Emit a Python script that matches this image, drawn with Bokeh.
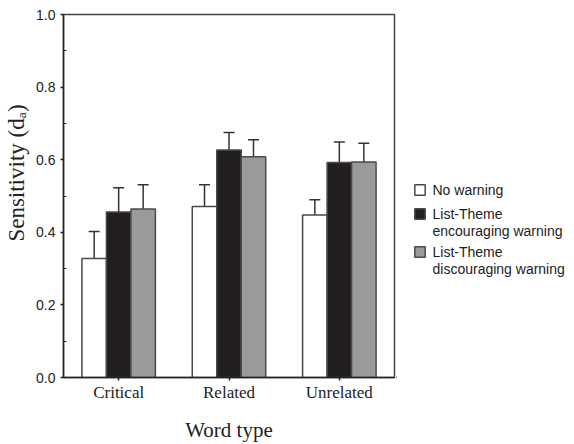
from bokeh.plotting import figure
from bokeh.layouts import row
from bokeh.models import (FactorRange, Range1d, Whisker, ColumnDataSource, Legend,
                          LegendItem, TeeHead, FixedTicker, NumeralTickFormatter)
from bokeh.transform import dodge
from bokeh.embed import file_html
from bokeh.resources import INLINE

# ---- data ----
categories = ["Critical", "Related", "Unrelated"]
no_warning = [0.328, 0.471, 0.448]
no_warning_se = [0.074, 0.060, 0.042]
encouraging = [0.456, 0.627, 0.592]
encouraging_se = [0.067, 0.048, 0.057]
discouraging = [0.464, 0.608, 0.594]
discouraging_se = [0.067, 0.047, 0.051]
series_labels = [["No warning"],
                 ["List-Theme", "encouraging warning"],
                 ["List-Theme", "discouraging warning"]]
y_ticks = [0.0, 0.2, 0.4, 0.6, 0.8, 1.0]
y_minor_ticks = [0.1, 0.3, 0.5, 0.7, 0.9]

series = [
    (no_warning, no_warning_se, "#ffffff"),
    (encouraging, encouraging_se, "#231f20"),
    (discouraging, discouraging_se, "#9a9a9a"),
]
offsets = [-0.222, 0.0, 0.222]
bar_w = 0.222
legend_bottoms = [179.5, 138.5, 100.5]
bar_line = "#4a4a4a"

p = figure(x_range=FactorRange(*categories, range_padding=0), y_range=Range1d(0, 1),
           width=396, height=444, output_backend="svg", toolbar_location=None,
           min_border_left=63, min_border_top=14, min_border_right=2, min_border_bottom=67)

# legend panel as a separate, axis-less figure
lg = figure(width=178, height=444, output_backend="svg", toolbar_location=None,
            x_range=Range1d(0, 1), y_range=Range1d(0, 1),
            x_axis_type=None, y_axis_type=None,
            min_border_left=0, min_border_right=0, min_border_top=0, min_border_bottom=0)
lg.outline_line_color = None
lg.xgrid.visible = False
lg.ygrid.visible = False
# proxies lie outside the legend panel's ranges, so only their legend glyphs show
blank = lg.vbar(x=[-5], top=[-5], width=0.1, fill_alpha=0, line_alpha=0)

for (vals, se, color), off, labs, lb in zip(series, offsets, series_labels, legend_bottoms):
    src = ColumnDataSource(dict(cat=categories, top=vals,
                                upper=[v + s for v, s in zip(vals, se)]))
    p.vbar(x=dodge("cat", off, range=p.x_range), top="top", width=bar_w, source=src,
           fill_color=color, line_color=bar_line, line_width=1.5)
    w = Whisker(base=dodge("cat", off, range=p.x_range), upper="upper", lower="top",
                source=src, lower_head=None,
                upper_head=TeeHead(size=11, line_color="#333333", line_width=1.5),
                line_color="#333333", line_width=1.5)
    p.add_layout(w)
    proxy = lg.vbar(x=[-5], top=[-5], width=0.1, fill_color=color, line_color=bar_line,
                    line_width=1.5)
    items = [LegendItem(label=labs[0], renderers=[proxy])]
    for extra in labs[1:]:
        items.append(LegendItem(label=extra, renderers=[blank]))
    legend = Legend(items=items, location=(16.5, lb), glyph_width=13, glyph_height=13,
                    label_text_font="Liberation Sans", label_text_font_size="14px",
                    label_text_color="#222222", label_standoff=7, spacing=1, padding=0,
                    margin=0, border_line_color=None, background_fill_alpha=0)
    lg.add_layout(legend, "center")

p.xgrid.visible = False
p.ygrid.visible = False
p.outline_line_color = "#444444"
p.outline_line_width = 1.5
p.outline_line_alpha = 1

p.yaxis.ticker = FixedTicker(ticks=y_ticks, minor_ticks=y_minor_ticks)
p.yaxis.formatter = NumeralTickFormatter(format="0.0")
p.yaxis.major_tick_out = 3
p.yaxis.major_tick_in = 0
p.yaxis.minor_tick_in = 3
p.yaxis.minor_tick_out = 0
p.yaxis.major_label_standoff = 5
p.yaxis.major_label_text_font = "Liberation Sans"
p.yaxis.major_label_text_font_size = "14px"
p.yaxis.axis_label = "\u00a0" * 8 + "Sensitivity (dₐ)"
p.yaxis.axis_label_text_font = "Liberation Serif"
p.yaxis.axis_label_text_font_size = "23px"
p.yaxis.axis_label_text_font_style = "normal"
p.yaxis.axis_label_standoff = 4

p.xaxis.major_tick_out = 3
p.xaxis.major_tick_in = 0
p.xaxis.major_label_standoff = 2
p.xaxis.major_label_text_font = "Liberation Serif"
p.xaxis.major_label_text_font_size = "17px"
p.xaxis.axis_label = "Word type"
p.xaxis.axis_label_text_font = "Liberation Serif"
p.xaxis.axis_label_text_font_size = "21px"
p.xaxis.axis_label_text_font_style = "normal"
p.xaxis.axis_label_standoff = 13

for ax in (p.xaxis, p.yaxis):
    ax.axis_line_color = "#222222"
    ax.axis_line_width = 1.5
    ax.major_tick_line_color = "#222222"
    ax.major_tick_line_width = 1.5
    ax.minor_tick_line_color = "#222222"
    ax.major_label_text_color = "#222222"
    ax.axis_label_text_color = "#222222"

layout = row(p, lg, spacing=0)
open("out.html", "w").write(file_html(layout, INLINE))
